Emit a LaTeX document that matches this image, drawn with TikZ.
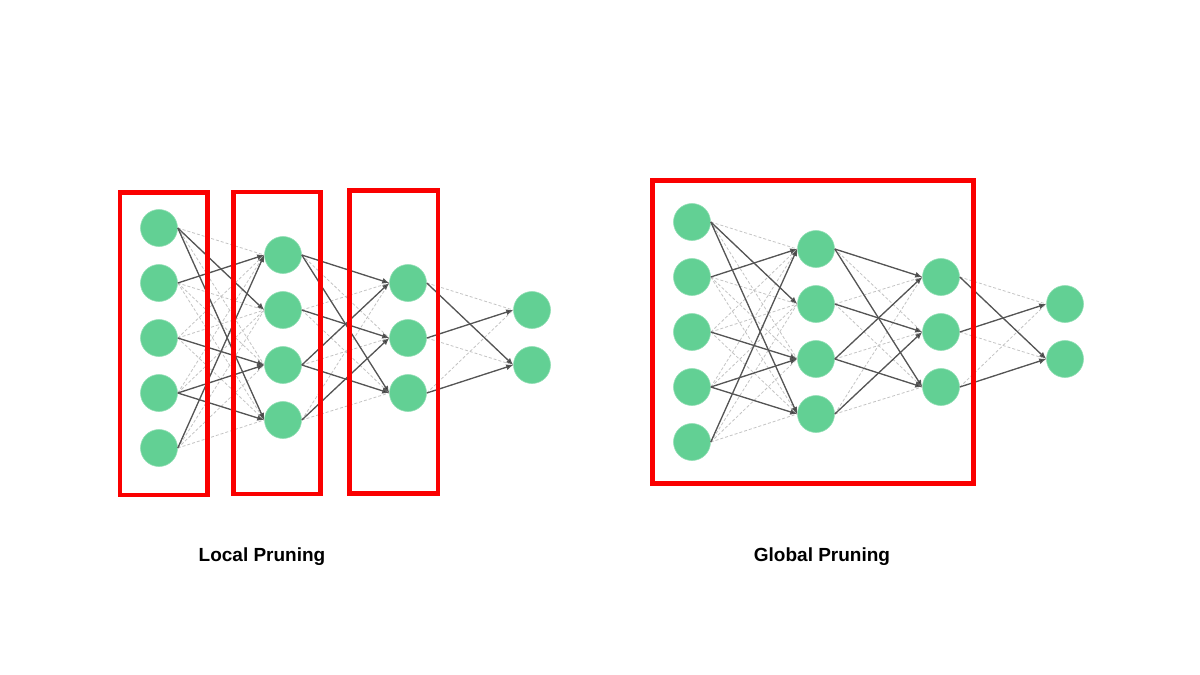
\documentclass[tikz,border=0pt]{standalone}
\usepackage{fontspec}
\setmainfont{Liberation Sans}
\usetikzlibrary{arrows.meta}

\definecolor{neurongreen}{RGB}{98,208,148}
\definecolor{solidgray}{RGB}{85,85,85}
\definecolor{prunedgray}{RGB}{195,195,195}
\definecolor{boxred}{RGB}{250,0,0}

\tikzset{
  neuron/.style={circle,fill=neurongreen,draw=neurongreen!70!white,line width=0.6pt,minimum size=37pt,inner sep=0pt},
  kept/.style={draw=solidgray,line width=1.3pt,-{Latex[length=7pt,width=6pt,fill=black!85]}},
  pruned/.style={draw=prunedgray,line width=0.8pt,dash pattern=on 3pt off 2pt},
  layerbox/.style={draw=boxred,line width=4.5pt},
  caption/.style={font=\bfseries\fontsize{19}{23}\selectfont}
}

\begin{document}
\begin{tikzpicture}[x=1pt,y=-1pt]
        \useasboundingbox (0,0) rectangle (1200,675);

        % local pruning network
        \begin{scope}[shift={(159,228)},every node/.style={neuron}]
          \node (la1) at (0,0)   {};
          \node (la2) at (0,55)  {};
          \node (la3) at (0,110) {};
          \node (la4) at (0,165) {};
          \node (la5) at (0,220) {};
          \node (lb1) at (124,27)  {};
          \node (lb2) at (124,82)  {};
          \node (lb3) at (124,137) {};
          \node (lb4) at (124,192) {};
          \node (lc1) at (249,55)  {};
          \node (lc2) at (249,110) {};
          \node (lc3) at (249,165) {};
          \node (ld1) at (373,82)  {};
          \node (ld2) at (373,137) {};
        \end{scope}

        % global pruning network
        \begin{scope}[shift={(692,222)},every node/.style={neuron}]
          \node (ga1) at (0,0)   {};
          \node (ga2) at (0,55)  {};
          \node (ga3) at (0,110) {};
          \node (ga4) at (0,165) {};
          \node (ga5) at (0,220) {};
          \node (gb1) at (124,27)  {};
          \node (gb2) at (124,82)  {};
          \node (gb3) at (124,137) {};
          \node (gb4) at (124,192) {};
          \node (gc1) at (249,55)  {};
          \node (gc2) at (249,110) {};
          \node (gc3) at (249,165) {};
          \node (gd1) at (373,82)  {};
          \node (gd2) at (373,137) {};
        \end{scope}

        % pruned weights
        \begin{scope}[every edge/.style={pruned}]
          \foreach \n in {l,g} {
            \foreach \i in {1,...,5} \foreach \j in {1,...,4}
              \path (\n a\i.east) edge (\n b\j.west);
            \foreach \i in {1,...,4} \foreach \j in {1,...,3}
              \path (\n b\i.east) edge (\n c\j.west);
            \foreach \i in {1,...,3} \foreach \j in {1,2}
              \path (\n c\i.east) edge (\n d\j.west);
          }
        \end{scope}

        % kept weights
        \begin{scope}[every edge/.style={kept}]
          \foreach \n in {l,g} {
            \path (\n a1.east) edge (\n b2.west);
            \path (\n a1.east) edge (\n b4.west);
            \path (\n a2.east) edge (\n b1.west);
            \path (\n a3.east) edge (\n b3.west);
            \path (\n a4.east) edge (\n b3.west);
            \path (\n a4.east) edge (\n b4.west);
            \path (\n a5.east) edge (\n b1.west);
            \path (\n b1.east) edge (\n c1.west);
            \path (\n b1.east) edge (\n c3.west);
            \path (\n b2.east) edge (\n c2.west);
            \path (\n b3.east) edge (\n c1.west);
            \path (\n b3.east) edge (\n c3.west);
            \path (\n b4.east) edge (\n c2.west);
            \path (\n c1.east) edge (\n d2.west);
            \path (\n c2.east) edge (\n d1.west);
            \path (\n c3.east) edge (\n d2.west);
          }
        \end{scope}

        % pruning scopes
        \draw[layerbox] (120,192.5) rectangle (207.5,495);
        \draw[layerbox] (233.5,192) rectangle (320.5,494);
        \draw[layerbox] (349.5,190.5) rectangle (438,493.5);
        \draw[layerbox] (652.5,180.5) rectangle (973.5,483.5);

        \node[caption] (local)  at (262,557) {Local Pruning};
        \node[caption] (global) at (822,557) {Global Pruning};

      \end{tikzpicture}
\end{document}
